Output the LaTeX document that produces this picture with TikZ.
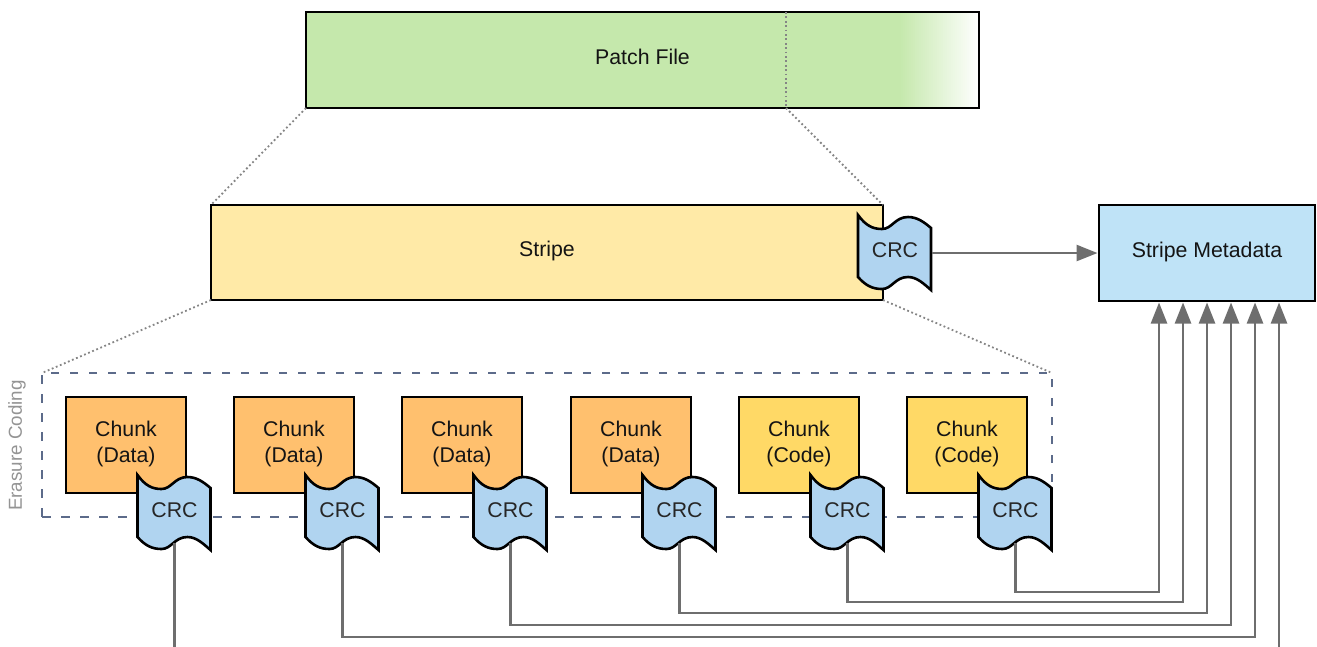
\documentclass[tikz,border=0pt]{standalone}
\usepackage{fontspec}
\setmainfont{Liberation Sans}
\usetikzlibrary{arrows.meta,calc}

\definecolor{patchgreen}{HTML}{C5E8AC}
\definecolor{stripeyellow}{HTML}{FFEAA7}
\definecolor{metablue}{HTML}{BFE3F7}
\definecolor{flagblue}{HTML}{B0D4F0}
\definecolor{dataorange}{HTML}{FFC06E}
\definecolor{codeyellow}{HTML}{FFD966}
\definecolor{dashslate}{HTML}{5C6B8A}
\definecolor{linkgray}{HTML}{6E6E6E}

\tikzset{
  box/.style={draw=black,line width=2.6pt,outer sep=0pt,inner sep=0pt,align=center,
    font=\fontsize{21.3}{26}\selectfont,text=black!92},
  chunkbox/.style={box,minimum width=120pt,minimum height=96pt,text depth=6pt},
  widebox/.style={box,minimum width=673pt,minimum height=96pt},
  flag/.style={draw=black,line width=2.6pt,line join=miter,fill=flagblue},
  crclabel/.style={outer sep=0pt,inner sep=0pt,minimum width=73pt,minimum height=65.4pt,
    font=\fontsize{21.3}{26}\selectfont,text=black!85},
  zoomline/.style={draw=black!48,line width=1.8pt,dash pattern=on 1.8pt off 2.6pt},
  link/.style={draw=linkgray,line width=2.5pt},
  arrowlink/.style={link,-{Triangle[length=21pt,width=16pt]},shorten >=1.5pt}
}

\newcommand{\crcflag}[3]{
  \draw[flag] (#2,#3) .. controls (#2+8,#3+11) and (#2+15,#3+14) .. (#2+24,#3+14)
    .. controls (#2+34,#3+14) and (#2+37,#3+2) .. (#2+50,#3+2)
    .. controls (#2+59,#3+2) and (#2+66,#3+7) .. (#2+73,#3+13)
    -- (#2+73,#3+75)
    .. controls (#2+66,#3+69) and (#2+59,#3+62) .. (#2+50,#3+62)
    .. controls (#2+37,#3+62) and (#2+34,#3+74) .. (#2+24,#3+74)
    .. controls (#2+15,#3+74) and (#2+8,#3+71) .. (#2,#3+62) -- cycle;
  \node[crclabel] (#1) at (#2+37,#3+35.5) {CRC};
}

\begin{document}
\begin{tikzpicture}[x=1pt,y=-1pt]
  \clip (0,0) rectangle (1317,646);

  \node[widebox,fill=patchgreen,text depth=6pt,
    path picture={
      \foreach \k [evaluate=\k as \p using {100-2.5*\k}] in {0,...,39}
        \fill[patchgreen!\p!white] (path picture bounding box.north east) ++(-80+2*\k,0)
          rectangle ++(2.4,100);}]
    (patch) at (642.5,60) {Patch File};
  \node[widebox,fill=stripeyellow,minimum width=672pt,minimum height=95pt,text depth=6.5pt] (stripe) at (547,252.5) {Stripe};
  \node[box,fill=metablue,minimum width=216pt,minimum height=96pt,text depth=6pt] (meta) at (1207,253) {Stripe Metadata};

  \coordinate (cuttop) at (786,12);
  \coordinate (cutbot) at (786,108);
  \draw[zoomline] (cuttop) -- (cutbot);
  \draw[zoomline] (patch.south west) -- (stripe.north west);
  \draw[zoomline] (cutbot) -- (stripe.north east);

  \node[draw=dashslate,line width=2.6pt,dash pattern=on 8.5pt off 10.5pt,outer sep=0pt,
    minimum width=1010pt,minimum height=144pt] (coding) at (547,445) {};
  \draw[zoomline] (stripe.south west) -- (coding.north west);
  \draw[zoomline] (stripe.south east) -- (coding.north east);
  \node[rotate=90,text=black!42,font=\fontsize{18.8}{22}\selectfont] (codinglabel) at (17,445.5) {Erasure Coding};

  \crcflag{crcS}{858}{215}
  \draw[arrowlink] (crcS.east |- meta.west) -- (meta.west);

  \foreach \i/\x/\kind/\col in {1/126/Data/dataorange,2/294/Data/dataorange,3/462/Data/dataorange,
      4/631/Data/dataorange,5/799/Code/codeyellow,6/967/Code/codeyellow}{
    \node[chunkbox,fill=\col] (chunk\i) at (\x,445) {Chunk\\(\kind)};
    \crcflag{crc\i}{\x+11.5}{475}
  }

  \draw[arrowlink] (crc6.south) |- (1159,592) -- (1159,0 |- meta.south);
  \draw[arrowlink] (crc5.south) |- (1183,602) -- (1183,0 |- meta.south);
  \draw[arrowlink] (crc4.south) |- (1207,613) -- (1207,0 |- meta.south);
  \draw[arrowlink] (crc3.south) |- (1231,625) -- (1231,0 |- meta.south);
  \draw[arrowlink] (crc2.south) |- (1255,637) -- (1255,0 |- meta.south);
  \draw[arrowlink] (crc1.south) |- (1279,655) -- (1279,0 |- meta.south);
\end{tikzpicture}
\end{document}
